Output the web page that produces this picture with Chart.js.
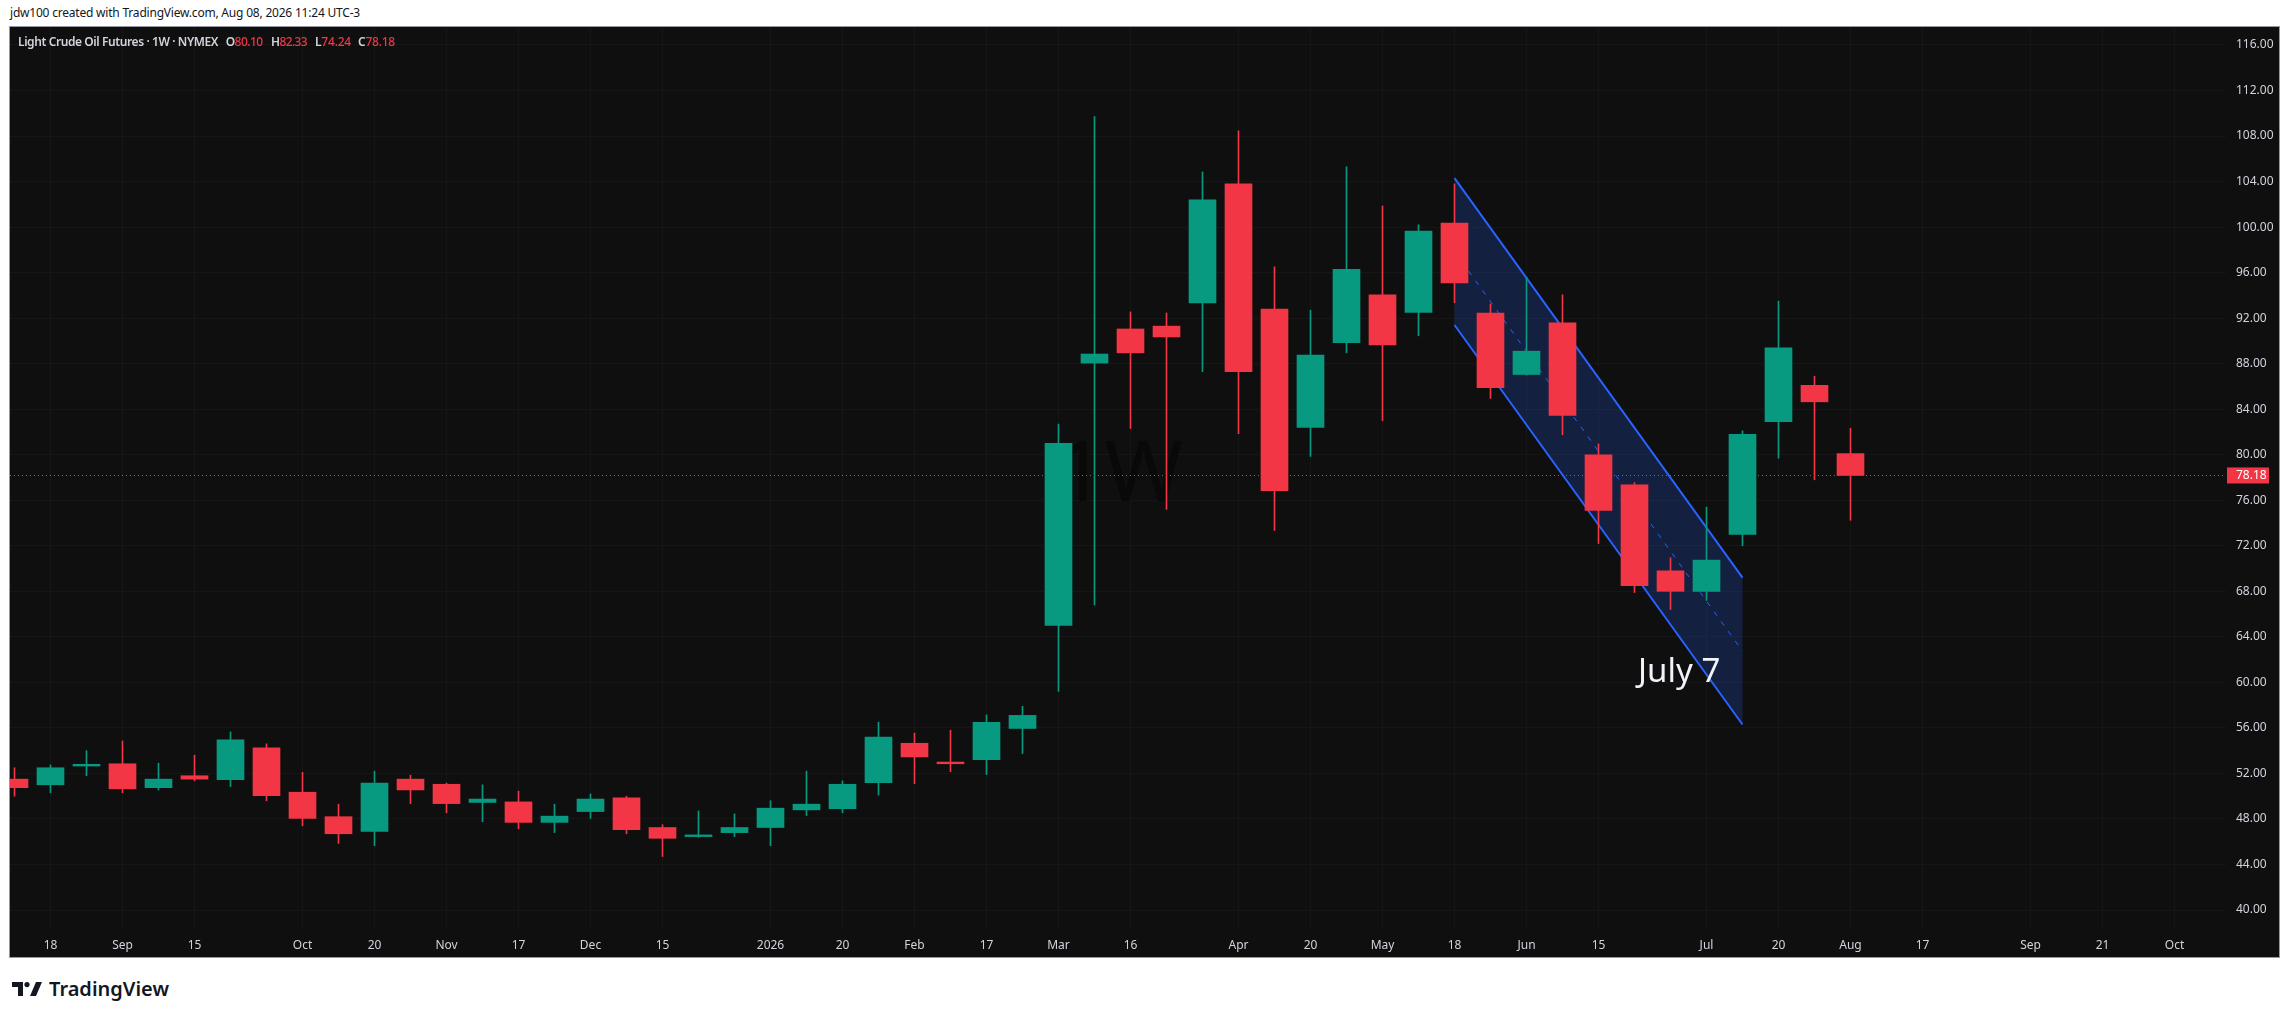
<!DOCTYPE html>
<html>
<head>
<meta charset="utf-8">
<script src="https://cdn.jsdelivr.net/npm/chart.js@4.4.1/dist/chart.umd.min.js"></script>
<style>
body { margin: 0; background: #fff; width: 2290px; height: 1018px; position: relative; overflow: hidden; font-family: "Noto Sans", sans-serif; }
#credit { position: absolute; left: 10px; top: 4px; font-size: 12px; color: #131722; white-space: nowrap; }
#frame { position: absolute; left: 9px; top: 26px; width: 2269px; height: 930px; border: 1px solid #9598a1; background: #0f0f0f; }
#c { position: absolute; left: 0; top: 0; }
.lg { position: absolute; top: 6px; font-size: 12px; font-weight: 600; color: #d1d4dc; white-space: nowrap; }
.lg .v { color: #f23645; font-weight: 500; }
#logo { position: absolute; left: 12px; top: 975px; display: flex; align-items: center; gap: 7px; font-size: 20px; font-weight: 600; color: #131722; }
#logo span { white-space: nowrap; }
</style>
</head>
<body>
<div id="credit">jdw100 created with TradingView.com, Aug 08, 2026 11:24 UTC-3</div>
<div id="frame">
  <canvas id="c" width="2269" height="930"></canvas>
  <span class="lg" style="left:8px" data-w="200">Light Crude Oil Futures · 1W · NYMEX</span>
  <span class="lg" style="left:215.7px" data-w="37">O<span class="v">80.10</span></span>
  <span class="lg" style="left:261px" data-w="36">H<span class="v">82.33</span></span>
  <span class="lg" style="left:305px" data-w="36">L<span class="v">74.24</span></span>
  <span class="lg" style="left:348px" data-w="37">C<span class="v">78.18</span></span>
</div>
<div id="logo">
  <svg width="30" height="14" viewBox="0 0 30 14"><rect x="0" y="0" width="11" height="5" fill="#131722"/><rect x="6" y="0" width="5" height="14" fill="#131722"/><circle cx="15" cy="2.6" r="2.6" fill="#131722"/><polygon points="18,14 24,0 30,0 24,14" fill="#131722"/></svg>
  <span id="logoText" data-w="120">TradingView</span>
</div>
<script>
// weekly bars, Aug 11 2025 .. Aug 3 2026
const weeks = ["2025-08-11","2025-08-18","2025-08-25","2025-09-01","2025-09-08","2025-09-15","2025-09-22","2025-09-29",
  "2025-10-06","2025-10-13","2025-10-20","2025-10-27","2025-11-03","2025-11-10","2025-11-17","2025-11-24",
  "2025-12-01","2025-12-08","2025-12-15","2025-12-22","2025-12-29","2026-01-05","2026-01-12","2026-01-20",
  "2026-01-26","2026-02-02","2026-02-09","2026-02-17","2026-02-23","2026-03-02","2026-03-09","2026-03-16",
  "2026-03-23","2026-03-30","2026-04-06","2026-04-13","2026-04-20","2026-04-27","2026-05-04","2026-05-11",
  "2026-05-18","2026-05-26","2026-06-01","2026-06-08","2026-06-15","2026-06-22","2026-06-29","2026-07-06",
  "2026-07-13","2026-07-20","2026-07-27","2026-08-03"];
const opens = [51.5,51.0,52.65,52.85,50.75,51.8,51.45,54.25,50.35,48.2,46.9,51.5,51.05,49.45,49.5,47.7,
  48.65,49.85,47.25,46.45,46.8,47.25,48.8,48.9,51.2,54.65,53.0,53.2,55.95,65.0,88.05,91.05,
  91.3,93.35,103.8,92.8,82.4,89.85,94.05,92.5,100.35,92.45,87.05,91.6,80.0,77.35,69.8,68.0,
  73.0,82.9,86.1,80.10];
const highs = [52.5,52.75,54.0,54.85,52.9,53.6,55.65,54.6,52.1,49.3,52.2,51.85,51.15,51.0,50.45,49.3,
  50.2,50.0,47.5,48.7,48.45,49.6,52.2,51.35,56.5,55.55,55.8,57.15,57.9,82.7,109.7,92.55,
  92.45,104.85,108.45,96.5,92.7,105.3,101.85,100.2,103.8,93.25,95.6,94.05,80.95,77.55,70.95,75.4,
  82.1,93.5,86.9,82.33];
const lows = [50.0,50.3,51.8,50.3,50.55,51.35,50.85,49.6,47.4,45.85,45.65,49.35,48.55,47.75,47.15,46.8,
  48.05,46.7,44.7,46.4,46.45,45.65,48.3,48.55,50.1,51.1,52.15,51.9,53.75,59.2,66.8,82.3,
  75.2,87.3,81.85,73.35,79.85,88.95,83.0,90.45,93.35,84.95,87.0,81.75,72.2,67.9,66.4,67.2,
  72.0,79.7,77.8,74.24];
const closes = [50.75,52.5,52.8,50.65,51.5,51.5,54.95,50.05,48.05,46.7,51.15,50.55,49.35,49.75,47.7,48.25,
  49.75,47.05,46.3,46.6,47.25,48.95,49.3,51.05,55.2,53.45,52.85,56.5,57.1,81.0,88.85,88.95,
  90.35,102.4,87.3,76.85,88.75,96.3,89.65,99.65,95.1,85.9,89.1,83.45,75.1,68.5,68.0,70.75,
  81.8,89.4,84.65,78.18];

const priceTicks = [40,44,48,52,56,60,64,68,72,76,80,84,88,92,96,100,104,108,112,116];
const timeTickIdx = [1,3,5,8,10,12,14,16,18,21,23,25,27,29,31,34,36,38,40,42,44,47,49,51,53,56,58,60];
const timeTickLabels = ["18","Sep","15","Oct","20","Nov","17","Dec","15","2026","20","Feb","17","Mar","16",
  "Apr","20","May","18","Jun","15","Jul","20","Aug","17","Sep","21","Oct"];

// parallel channel drawn on the chart (week index, upper price, lower price)
const channelIdx = [40, 48];
const channelUpper = [104.3, 69.2];
const channelLower = [91.4, 56.3];
const lastPrice = 78.18;

const UP = '#089981', DOWN = '#f23645';
const colors = opens.map((o, i) => closes[i] >= o ? UP : DOWN);

// stretch a text line to the width it has in the snapshot
function fitWidth(el, target) {
    const w = el.getBoundingClientRect().width;
    el.style.letterSpacing = ((target - w) / el.textContent.length) + 'px';
}
document.querySelectorAll('[data-w]').forEach(el => fitWidth(el, +el.dataset.w));
fitWidth(document.getElementById('credit'), 350);

Chart.defaults.font.family = '"Noto Sans", sans-serif';

function noPad(s) { s.paddingLeft = 0; s.paddingRight = 0; s.paddingTop = 0; s.paddingBottom = 0; }

const overlay = {
    id: 'overlay',
    beforeDatasetsDraw(chart) {
        const { ctx, chartArea: a, scales: { x, y } } = chart;
        ctx.save();
        ctx.beginPath(); ctx.rect(a.left, a.top, a.width, a.height); ctx.clip();

        ctx.fillStyle = '#090909';
        ctx.font = '84px "Noto Sans"';
        ctx.textAlign = 'center'; ctx.textBaseline = 'middle';
        ctx.fillText('1W', x.getPixelForValue(30.7), y.getPixelForValue(78));

        const x0 = x.getPixelForValue(channelIdx[0]), x1 = x.getPixelForValue(channelIdx[1]);
        const u0 = y.getPixelForValue(channelUpper[0]), u1 = y.getPixelForValue(channelUpper[1]);
        const l0 = y.getPixelForValue(channelLower[0]), l1 = y.getPixelForValue(channelLower[1]);
        ctx.fillStyle = 'rgba(41,98,255,0.2)';
        ctx.beginPath(); ctx.moveTo(x0, u0); ctx.lineTo(x1, u1); ctx.lineTo(x1, l1); ctx.lineTo(x0, l0); ctx.closePath(); ctx.fill();
        ctx.strokeStyle = '#2962ff'; ctx.lineWidth = 2;
        ctx.beginPath(); ctx.moveTo(x0, u0); ctx.lineTo(x1, u1); ctx.moveTo(x0, l0); ctx.lineTo(x1, l1); ctx.stroke();
        ctx.lineWidth = 1; ctx.setLineDash([5, 7]);
        ctx.beginPath(); ctx.moveTo(x0, (u0 + l0) / 2); ctx.lineTo(x1, (u1 + l1) / 2); ctx.stroke();

        const py = Math.round(y.getPixelForValue(lastPrice)) + 0.5;
        ctx.strokeStyle = DOWN; ctx.setLineDash([1, 3]);
        ctx.beginPath(); ctx.moveTo(a.left, py); ctx.lineTo(a.right, py); ctx.stroke();
        ctx.setLineDash([]);

        ctx.fillStyle = '#f0f3fa';
        ctx.font = '33px "Noto Sans"';
        ctx.textAlign = 'left'; ctx.textBaseline = 'alphabetic';
        ctx.fillText('July 7', x.getPixelForValue(45.1), y.getPixelForValue(60.0));
        ctx.restore();
    },
    afterDraw(chart) {
        const { ctx, chartArea: a, scales: { y } } = chart;
        const py = y.getPixelForValue(lastPrice);
        ctx.save();
        ctx.fillStyle = DOWN;
        ctx.fillRect(a.right + 1, py - 8, 42, 16);
        ctx.fillStyle = '#ffffff';
        ctx.font = '12px "Noto Sans"';
        ctx.textAlign = 'left'; ctx.textBaseline = 'middle';
        ctx.fillText(lastPrice.toFixed(2), a.right + 10, py);
        ctx.restore();
    }
};

new Chart(document.getElementById('c'), {
    type: 'bar',
    data: {
        datasets: [
            { data: weeks.map((w, i) => ({ x: i, y: [opens[i], closes[i]] })), backgroundColor: colors, barThickness: 27, minBarLength: 1, grouped: false },
            { data: weeks.map((w, i) => ({ x: i, y: [lows[i], highs[i]] })), backgroundColor: colors, barThickness: 1, grouped: false }
        ]
    },
    options: {
        responsive: false,
        animation: false,
        devicePixelRatio: 1,
        layout: { padding: 0 },
        plugins: { legend: { display: false }, tooltip: { enabled: false } },
        scales: {
            x: {
                type: 'linear', min: -0.125, max: 61.4306, offset: false,
                grid: { color: '#161616', drawTicks: false, offset: false },
                border: { display: false },
                afterFit: s => { s.height = 27; noPad(s); },
                afterBuildTicks: s => { s.ticks = timeTickIdx.map(v => ({ value: v })); },
                ticks: { autoSkip: false, maxRotation: 0, padding: 8, color: '#d1d4dc', font: { size: 12 },
                    callback: (v, i) => timeTickLabels[i] }
            },
            y: {
                position: 'right', min: 38.245, max: 117.581,
                grid: { color: '#161616', drawTicks: false },
                border: { display: false },
                afterFit: s => { s.width = 53; noPad(s); },
                afterBuildTicks: s => { s.ticks = priceTicks.map(v => ({ value: v })); },
                ticks: { padding: 10, color: '#d1d4dc', font: { size: 12 }, callback: v => v.toFixed(2) }
            }
        }
    },
    plugins: [overlay]
});
</script>
</body>
</html>
